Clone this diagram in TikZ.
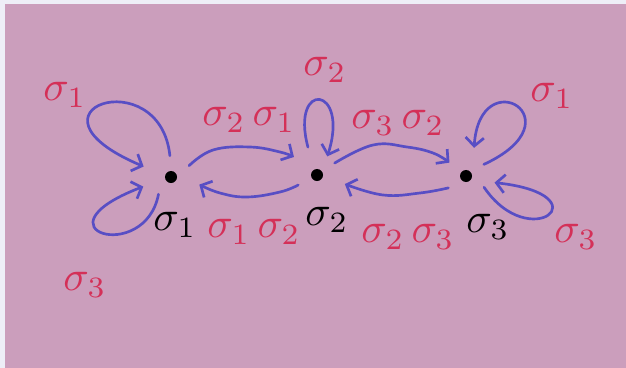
\documentclass[tikz,border=0pt]{standalone}
\usetikzlibrary{arrows.meta}
\definecolor{paper}{RGB}{203,158,188}
\definecolor{margin}{RGB}{238,238,247}
\definecolor{ink}{RGB}{88,78,196}
\definecolor{redink}{RGB}{212,48,88}
\begin{document}
\begin{tikzpicture}[x=0.025cm,y=-0.025cm,
  dot/.style={circle,fill=black,minimum size=0.3cm,inner sep=0},
  halo/.style={circle,minimum size=1.05cm,inner sep=0},
  farhalo/.style={circle,minimum size=1.45cm,inner sep=0},
  conn/.style={draw=ink,line width=1.9pt,line cap=round,line join=round,
    -{Straight Barb[length=6pt,width=13pt]}},
  redlab/.style={text=redink,scale=3,inner sep=0},
  blacklab/.style={text=black,scale=3,inner sep=0}]
\useasboundingbox (0,0) rectangle (626,368);
\fill[margin] (0,0) rectangle (626,368);
\fill[paper] (5,4) rectangle (626,368);

% vertices
\node[dot] (d1) at (171,177) {};
\node[dot] (d2) at (317,175) {};
\node[dot] (d3) at (466,176) {};
\node[halo] (v1) at (d1) {};
\node[halo] (v2) at (d2) {};
\node[halo] (v3) at (d3) {};
\node[farhalo] (w1) at (d1) {};
\node[farhalo] (w2) at (d2) {};
\node[farhalo] (w3) at (d3) {};

% vertex labels
\node[blacklab] (b1) at (175,225) {$\sigma_1$};
\node[blacklab] (b2) at (327,220) {$\sigma_2$};
\node[blacklab] (b3) at (488,227) {$\sigma_3$};

% edges between vertices
\draw[conn] plot[smooth,tension=0.7] coordinates {(v1.32) (213,150) (250,147) (280,152) (w2.142)};
\draw[conn] plot[smooth,tension=0.7] coordinates {(v2.208) (280,192) (247,197) (220,193) (w1.-15)};
\draw[conn] plot[smooth,tension=0.7] coordinates {(v2.34) (373,145) (407,147) (433,153) (v3.141)};
\draw[conn] plot[smooth,tension=0.7] coordinates {(v3.214) (420,193) (383,195) (w2.-18)};

% loops
\draw[conn] (v1.93) .. controls (160,60) and (10,110) .. (w1.159);
\draw[conn] (v1.234) .. controls (145,265) and (30,230) .. (w1.199);
\draw[conn] (w2.108) .. controls (290,80) and (350,85) .. (v2.61);
\draw[conn] (v3.33) .. controls (580,120) and (480,60) .. (w3.74);
\draw[conn] (v3.-32) .. controls (530,255) and (605,195) .. (w3.-13);

% red labels
\node[redlab] (r1) at (65,95) {$\sigma_1$};
\node[redlab] (r2) at (85,285) {$\sigma_3$};
\node[redlab] (r3) at (249,120) {$\sigma_2\,\sigma_1$};
\node[redlab] (r4) at (254,232) {$\sigma_1\,\sigma_2$};
\node[redlab] (r5) at (325,70) {$\sigma_2$};
\node[redlab] (r6) at (398,123) {$\sigma_3\,\sigma_2$};
\node[redlab] (r7) at (408,237) {$\sigma_2\,\sigma_3$};
\node[redlab] (r8) at (552,96) {$\sigma_1$};
\node[redlab] (r9) at (576,237) {$\sigma_3$};
\end{tikzpicture}
\end{document}
